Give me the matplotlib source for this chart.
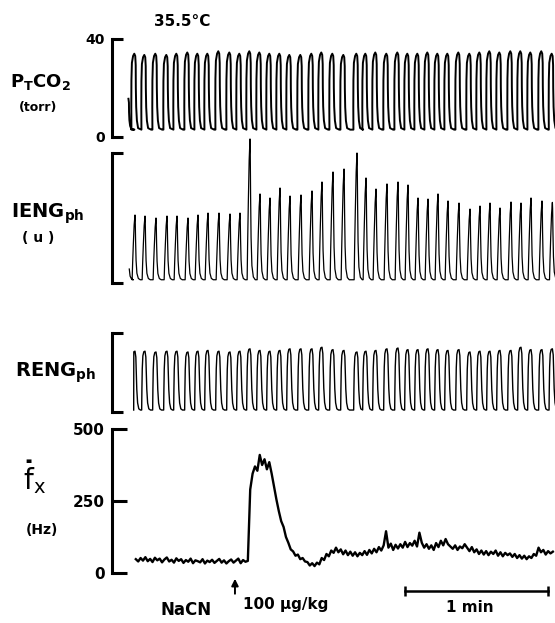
import numpy as np
import matplotlib.pyplot as plt

plt.rcParams["mathtext.fontset"] = "custom"
plt.rcParams["mathtext.rm"] = "DejaVu Sans:bold"
plt.rcParams["mathtext.bf"] = "DejaVu Sans:bold"
plt.rcParams["mathtext.it"] = "DejaVu Sans:bold"
plt.rcParams["mathtext.sf"] = "DejaVu Sans"

W, H = 555, 623
T_END = 185.9          # seconds visible (2.383 px per second)

# breath peak times (s)
breath_t = [6.8, 9.65, 13.85, 18.46, 23.08, 27.28, 31.89, 36.09, 40.29, 44.90,
            49.52, 53.71, 57.91, 62.11, 66.30, 70.50, 74.70, 79.31, 83.93, 88.12,
            92.74, 97.36, 102.81, 106.59, 110.78, 115.40, 120.02, 124.21, 128.41,
            132.61, 136.80, 141.00, 145.62, 150.23, 154.43, 158.62, 162.82,
            167.44, 171.63, 175.83, 180.44, 184.8]

# tracheal CO2 peaks (torr)
ptco2_peak = [16, 34, 33.5, 34, 33.5, 34, 34.5, 34, 34, 35, 34.5, 34, 35, 34.5,
              34, 34, 33.5, 33.5, 34, 34.5, 34, 33.5, 34, 34, 34.5, 34, 34.5, 34,
              34, 34.5, 34, 34, 34.5, 34, 34.5, 35, 34.5, 35, 35, 34.5, 35, 34]
ptco2_base = 3.0

# integrated phrenic peaks (units, bracket = 100)
ieng_peak = [30, 52.3, 51.5, 50.0, 51.5, 51.5, 50.0, 52.3, 53.8, 53.8, 53.1, 53.8,
             110.8, 68.5, 65.4, 73.1, 66.9, 67.7, 70.8, 77.7, 85.4, 87.7, 100,
             80.8, 72.3, 76.2, 77.7, 75.4, 65.4, 64.6, 68.5, 63.1, 61.5, 56.9,
             59.2, 61.5, 57.7, 62.3, 61.5, 65.4, 63.1, 62]
ieng_base = 2.5

# recurrent laryngeal peaks (units, bracket = 100)
reng_peak = [75, 77, 77, 76, 77, 77, 76, 77, 78, 77, 76, 77, 80, 78, 77, 78, 80,
             80, 80, 82, 79, 78, 76, 77, 78, 80, 81, 79, 79, 80, 79, 78, 79, 76,
             77, 77, 78, 78, 82, 79, 79, 80]
reng_base = 2.5

# one-cycle shapes: offset from peak (s) and fraction of peak height
ptco2_shape_t = [-1.5, -1.55, -1.5, -1.3, -0.8, -0.3, 0.1, 0.3, 0.35, 0.5, 0.8, 1.3, 2.6]
ptco2_shape_y = [0.0, 0.30, 0.65, 0.88, 0.97, 1.0, 0.97, 0.85, 0.55, 0.30, 0.12, 0.02, 0.0]
ieng_shape_t = [-1.2, -1.0, -0.7, -0.35, 0.0, 0.1, 0.25, 0.45, 0.8, 1.4, 2.2]
ieng_shape_y = [0.0, 0.25, 0.55, 0.85, 1.0, 0.92, 0.6, 0.3, 0.1, 0.02, 0.0]
reng_shape_t = [-1.4, -1.3, -1.15, -0.9, -0.5, 0.0, 0.35, 0.55, 0.75, 1.1, 1.6, 2.3]
reng_shape_y = [0.0, 0.35, 0.7, 0.92, 0.99, 1.0, 0.9, 0.65, 0.35, 0.12, 0.02, 0.0]

# chemoreceptor discharge (Hz), one value per second from t = 10 s
fx_start = 10
fx_hz = [48, 40, 52, 43, 55, 41, 49, 38, 53, 44,
         50, 37, 47, 54, 40, 46, 36, 51, 42, 48,
         35, 45, 39, 50, 34, 44, 41, 37, 48, 33,
         43, 38, 46, 35, 42, 49, 36, 44, 33, 41,
         47, 36, 43, 50, 34, 45, 39, 42,
         290, 345, 370, 355, 410, 375, 395, 360, 385, 345, 300, 255,
         215, 180, 160, 125, 105, 82, 75, 60, 64, 48,
         52, 40, 38, 26, 34, 24, 36, 30, 52, 45,
         66, 58, 78, 70, 88, 72, 82, 65, 78, 62,
         74, 60, 72, 58, 70, 62, 76, 63, 80, 68,
         84, 72, 90, 78, 96, 145, 88, 102, 80, 98,
         85, 100, 88, 108, 90, 104, 95, 112, 92, 140,
         105, 88, 100, 84, 96, 80, 104, 90, 112, 96,
         118, 100, 92, 84, 96, 80, 92, 86, 100, 88,
         76, 90, 72, 82, 66, 78, 64, 76, 62, 74,
         66, 78, 60, 72, 58, 70, 62, 68, 56, 66,
         52, 62, 50, 60, 48, 58, 52, 66, 60, 88,
         72, 80, 64, 76, 68, 74]

nacn_t = 51.6          # injection marker
scalebar_t = (123, 183)


def cycles(peaks, base, shape_t, shape_y, t0):
    xs, ys = [], []
    for tp, amp in zip(breath_t, peaks):
        xs.extend(tp + np.asarray(shape_t))
        ys.extend(base + np.asarray(shape_y) * (amp - base))
    xs, ys = np.array(xs), np.array(ys)
    keep = xs >= t0
    return xs[keep], ys[keep]


fig = plt.figure(figsize=(W / 100, H / 100), dpi=100)


def px_axes(top, bottom, left=112, right=555):
    ax = fig.add_axes([left / W, 1 - bottom / H, (right - left) / W, (bottom - top) / H])
    ax.set_xlim(0, T_END)
    ax.patch.set_visible(False)
    for s in ("top", "right", "bottom"):
        ax.spines[s].set_visible(False)
    ax.spines["left"].set_linewidth(2.2)
    ax.tick_params(axis="y", direction="in", length=8, width=2.2, pad=5,
                   labelsize=10)
    ax.set_xticks([])
    return ax


def label(x, y, s, **kw):
    kw.setdefault("fontweight", "bold")
    fig.text(x / W, 1 - y / H, s, **kw)


# PTCO2
ax1 = px_axes(39, 137)
ax1.set_ylim(0, 40)
ax1.set_yticks([0, 40])
ax1.set_yticklabels(["0", "40"], fontweight="bold")
x, y = cycles(ptco2_peak, ptco2_base, ptco2_shape_t, ptco2_shape_y, 6.7)
ax1.plot(x, y, color="black", lw=1.4, clip_on=False)

# IENG
ax2 = px_axes(153, 283)
ax2.set_ylim(0, 100)
ax2.set_yticks([0, 100])
ax2.set_yticklabels([])
x, y = cycles(ieng_peak, ieng_base, ieng_shape_t, ieng_shape_y, 7.1)
ax2.plot(x, y, color="black", lw=0.9, clip_on=False)

# RENG
ax3 = px_axes(333, 412)
ax3.set_ylim(0, 100)
ax3.set_yticks([0, 100])
ax3.set_yticklabels([])
x, y = cycles(reng_peak, reng_base, reng_shape_t, reng_shape_y, 8.8)
ax3.plot(x, y, color="black", lw=1.0, clip_on=False)

# fx
ax4 = px_axes(429, 573)
ax4.set_ylim(0, 500)
ax4.set_yticks([0, 250, 500])
ax4.set_yticklabels(["0", "250", "500"], fontweight="bold")
ax4.tick_params(axis="y", length=11, labelsize=11)
t_fx = fx_start + np.arange(len(fx_hz))
ax4.plot(t_fx, fx_hz, color="black", lw=1.7)

# NaCN arrow and 1 min bar
ax4.annotate("", xy=(nacn_t, -20), xytext=(nacn_t, -72),
             arrowprops=dict(arrowstyle="-|>", color="black", lw=1.4,
                             mutation_scale=10, shrinkA=0, shrinkB=0),
             annotation_clip=False)
ax4.plot(scalebar_t, [-62, -62], color="black", lw=1.8, clip_on=False,
         marker="|", markersize=7, markeredgewidth=1.8)

# labels
label(182, 21, "35.5°C", fontsize=11, ha="center", va="center")
label(40, 82, r"$\mathrm{P_TCO_2}$", fontsize=13, ha="center", va="center")
label(38, 107, "(torr)", fontsize=9, ha="center", va="center")
label(48, 214, r"$\mathrm{IENG_{ph}}$", fontsize=14, ha="center", va="center")
label(38, 238, "( u )", fontsize=10, ha="center", va="center")
label(56, 373, r"$\mathrm{RENG_{ph}}$", fontsize=14, ha="center", va="center")
label(34, 477, r"$\dot{\mathsf{f}}_{\mathsf{x}}$", fontsize=20, ha="center",
      va="center", fontweight="normal")
label(42, 530, "(Hz)", fontsize=10, ha="center", va="center")
label(186, 610, "NaCN", fontsize=12, ha="center", va="center")
label(286, 605, "100 µg/kg", fontsize=11, ha="center", va="center")
label(470, 608, "1 min", fontsize=11, ha="center", va="center")

fig.savefig("out.png", dpi=100)
